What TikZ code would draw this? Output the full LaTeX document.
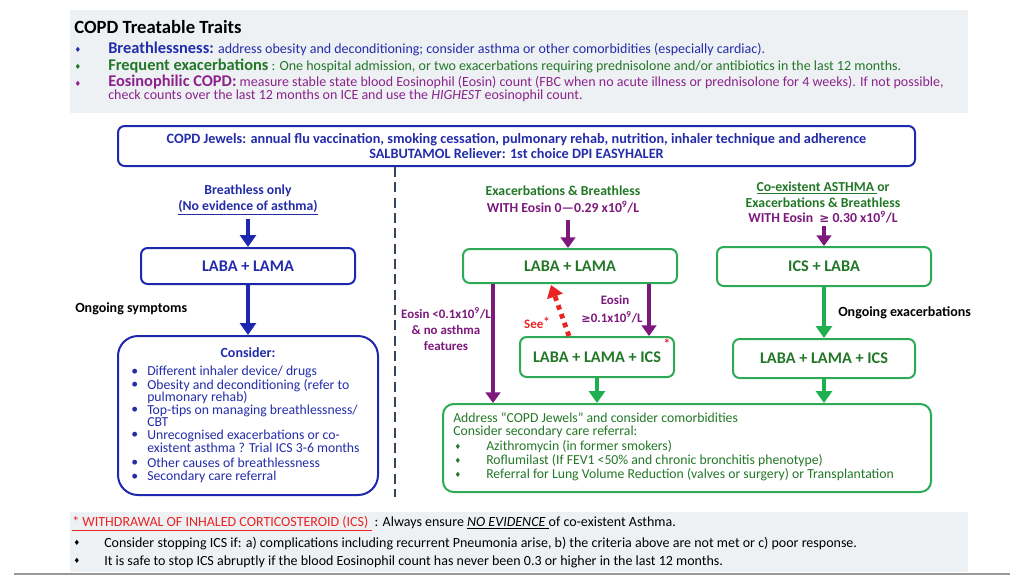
\documentclass[tikz,border=0pt]{standalone}
\usepackage{fontspec}
\setmainfont{Carlito}
\newfontfamily\djs{DejaVu Sans}
\newcommand\hdf{\fontsize{12.3}{14}\selectfont\bfseries}
\usetikzlibrary{arrows.meta,calc}
\definecolor{blueA}{RGB}{30,40,175}
\definecolor{blueT}{RGB}{35,45,170}
\definecolor{greenT}{RGB}{35,120,40}
\definecolor{greenB}{RGB}{45,170,85}
\definecolor{greenA}{RGB}{30,175,80}
\definecolor{purp}{RGB}{125,25,125}
\definecolor{purpT}{RGB}{140,35,140}
\definecolor{redA}{RGB}{235,35,35}
\definecolor{panel}{RGB}{238,241,244}
\definecolor{dashc}{RGB}{55,70,90}
\begin{document}
\begin{tikzpicture}[x=0.75pt,y=-0.75pt,
  bbox/.style={draw=blueA,line width=1.5pt,rounded corners=5pt,fill=white,inner sep=0pt},
  gbox/.style={draw=greenB,line width=1.5pt,rounded corners=5pt,fill=white,inner sep=0pt},
  boxtxt/.style={font=\bfseries\fontsize{12.2}{14}\selectfont},
  lbl/.style={font=\bfseries\fontsize{10.3}{12}\selectfont,inner sep=0pt},
  slbl/.style={font=\bfseries\fontsize{9.7}{11}\selectfont,inner sep=0pt,text=purp},
  toptxt/.style={anchor=base west,inner sep=0pt,font=\fontsize{10.5}{12}\selectfont},
  listtxt/.style={anchor=west,inner sep=0pt,font=\fontsize{10.3}{12}\selectfont},
  diam/.style={inner sep=0pt,font=\djs\fontsize{5.5}{6}\selectfont},
  barrow/.style={line width=3.7pt,draw=blueA,-{Triangle[width=12pt,length=9pt]}},
  parrow/.style={line width=3pt,draw=purp,-{Triangle[width=11pt,length=8pt]}},
  garrow/.style={line width=3.7pt,draw=greenA,-{Triangle[width=12pt,length=9pt]}},
]
\useasboundingbox (0,0) rectangle (1024,576);
\fill[white] (0,0) rectangle (1024,576);
% panels
\fill[panel] (70,10) rectangle (968,113);
\fill[panel] (70,512) rectangle (968,572);
\draw[gray!80,line width=2pt] (14,574) -- (1010,574);

% top panel text
\node[anchor=base west,inner sep=0pt,font=\bfseries\fontsize{14}{16}\selectfont] (title) at (74,33) {COPD Treatable Traits};
\node[diam,text=blueT] (d1) at (78,50) {♦};
\node[diam,text=greenT] (d2) at (78,67) {♦};
\node[diam,text=purpT] (d3) at (78,84) {♦};
\node[toptxt,text=blueT] (t1) at (108,53) {{\hdf Breathlessness:} address obesity and deconditioning; consider asthma or other comorbidities (especially cardiac).};
\node[toptxt,text=greenT] (t2) at (108,70) {{\hdf Frequent exacerbations} : One hospital admission, or two exacerbations requiring prednisolone and/or antibiotics in the last 12 months.};
\node[toptxt,text=purpT] (t3) at (108,86) {{\hdf Eosinophilic COPD:} measure stable state blood Eosinophil (Eosin) count (FBC when no acute illness or prednisolone for 4 weeks). If not possible,};
\node[toptxt,text=purpT] (t4) at (108,99) {check counts over the last 12 months on ICE and use the \textit{HIGHEST} eosinophil count.};

% jewels box
\node[bbox,minimum width=597.75pt,minimum height=30pt,align=center,text=blueT,
  font=\bfseries\fontsize{10.7}{11.25}\selectfont] (jew) at (516.5,146)
  {COPD Jewels: annual flu vaccination, smoking cessation, pulmonary rehab, nutrition, inhaler technique and adherence\\SALBUTAMOL Reliever: 1st choice DPI EASYHALER};

% dashed divider
\coordinate (dv) at (395,497);
\draw[dashc,line width=2.2pt,dash pattern=on 7.5pt off 4pt] (jew.south -| dv) -- (dv);

% ---------- left column
\node[lbl,text=blueT] (lb1) at (248,191) {Breathless only};
\node[lbl,text=blueT] (lb2) at (248,208) {\underline{(No evidence of asthma)}};
\node[bbox,minimum width=160.5pt,minimum height=27pt,boxtxt,text=blueT] (L1) at (248,266) {LABA + LAMA};
\node[bbox,rounded corners=15pt,minimum width=195pt,minimum height=119.25pt] (cons) at (248,415.5) {};
\coordinate (bs) at (248,219);
\draw[barrow] (bs) -- (L1);
\draw[barrow] (L1) -- (cons);
\node[anchor=west,inner sep=0pt,font=\bfseries\fontsize{10.5}{12}\selectfont] (ongs) at (75,309) {Ongoing symptoms};

\node[inner sep=0pt,font=\bfseries\fontsize{10.5}{12}\selectfont,text=blueT] (consh) at (248,353) {Consider:};
\node[listtxt,text=blueT] (b1) at (131,372) {•};
\node[listtxt,text=blueT] (c1) at (147,372) {Different inhaler device/ drugs};
\node[listtxt,text=blueT] (b2) at (131,385.5) {•};
\node[listtxt,text=blueT] (c2) at (147,385.5) {Obesity and deconditioning (refer to};
\node[listtxt,text=blueT] (c2b) at (147,397.5) {pulmonary rehab)};
\node[listtxt,text=blueT] (b3) at (131,410.5) {•};
\node[listtxt,text=blueT] (c3) at (147,410.5) {Top-tips on managing breathlessness/};
\node[listtxt,text=blueT] (c3b) at (147,422.5) {CBT};
\node[listtxt,text=blueT] (b4) at (131,435.5) {•};
\node[listtxt,text=blueT] (c4) at (147,435.5) {Unrecognised exacerbations or co-};
\node[listtxt,text=blueT] (c4b) at (147,447.5) {existent asthma ? Trial ICS 3-6 months};
\node[listtxt,text=blueT] (b5) at (131,463) {•};
\node[listtxt,text=blueT] (c5) at (147,463) {Other causes of breathlessness};
\node[listtxt,text=blueT] (b6) at (131,477) {•};
\node[listtxt,text=blueT] (c6) at (147,477) {Secondary care referral};

% ---------- middle column
\node[lbl,text=greenT] (mb1) at (563,191) {Exacerbations \& Breathless};
\node[lbl,text=purp] (mb2) at (563,207) {WITH Eosin 0—0.29 x10\textsuperscript{9}/L};
\node[gbox,minimum width=160.5pt,minimum height=25.5pt,boxtxt,text=greenT] (M1) at (570,266) {LABA + LAMA};
\node[gbox,minimum width=115.5pt,minimum height=30pt,boxtxt,text=greenT] (M2) at (597,357) {LABA + LAMA + ICS};
\node[inner sep=0pt,text=redA,font=\bfseries\fontsize{10}{11}\selectfont] (ast) at (667,344) {*};
\node[gbox,rounded corners=8pt,minimum width=366pt,minimum height=66pt] (B) at (687,448) {};
\coordinate (ms) at (568,220);
\draw[parrow] (ms) -- (ms |- M1.north);
\draw[parrow] ($(M1.south west)+(31,0)$) -- ($(B.north west)+(51,0)$);
\draw[parrow] ($(M1.south east)+(-29,0)$) -- ($(M2.north east)+(-26,0)$);
\coordinate (redend) at (551,285);
\draw[redA,line width=3.6pt,dash pattern=on 3.5pt off 3.5pt,-{Triangle[width=12pt,length=9pt]}] ($(M2.north west)+(50,0)$) -- (redend);
\draw[garrow] (M2.south) -- (M2.south |- B.north);
\node[slbl] (e1) at (446,313) {Eosin <0.1x10\textsuperscript{9}/L};
\node[slbl] (e2) at (446,330) {\& no asthma};
\node[slbl] (e3) at (446,346) {features};
\node[slbl] (e4) at (615,300) {Eosin};
\node[slbl] (e5) at (612,317) {{\djs\fontsize{8.5}{10}\selectfont ≥}0.1x10\textsuperscript{9}/L};
\node[inner sep=0pt,text=redA,font=\bfseries\fontsize{9.7}{11}\selectfont] (see) at (537,323) {See\raisebox{2pt}{*}};

% ---------- right column
\node[lbl,text=greenT] (rb1) at (823,188) {\underline{Co-existent ASTHMA }or};
\node[lbl,text=greenT] (rb2) at (823,202.5) {Exacerbations \& Breathless};
\node[lbl,text=purp] (rb3) at (823,217) {WITH Eosin \ {\djs\fontsize{9}{10}\selectfont ≥} 0.30 x10\textsuperscript{9}/L};
\node[gbox,minimum width=160.5pt,minimum height=29.25pt,boxtxt,text=greenT] (R1) at (824,266.5) {ICS + LABA};
\node[gbox,minimum width=136.5pt,minimum height=29.25pt,boxtxt,text=greenT] (R2) at (824,358.5) {LABA + LAMA + ICS};
\coordinate (rs) at (824,226);
\draw[parrow] (rs) -- (R1);
\draw[garrow] (R1) -- (R2);
\draw[garrow] (R2.south) -- (R2.south |- B.north);
\node[anchor=west,inner sep=0pt,font=\bfseries\fontsize{10.5}{12}\selectfont] (onge) at (838,313) {Ongoing exacerbations};

% bottom box text
\node[listtxt,text=greenT] (g1) at (453,418) {Address “COPD Jewels” and consider comorbidities};
\node[listtxt,text=greenT] (g2) at (453,432) {Consider secondary care referral:};
\node[diam,text=greenT] (gd1) at (458,447) {♦};
\node[listtxt,text=greenT] (g3) at (486,447) {Azithromycin (in former smokers)};
\node[diam,text=greenT] (gd2) at (458,461) {♦};
\node[listtxt,text=greenT] (g4) at (486,461) {Roflumilast (If FEV1 <50\% and chronic bronchitis phenotype)};
\node[diam,text=greenT] (gd3) at (458,475) {♦};
\node[listtxt,text=greenT] (g5) at (486,475) {Referral for Lung Volume Reduction (valves or surgery) or Transplantation};

% bottom panel
\node[toptxt] (w1) at (72,526) {\textcolor{redA}{\underline{* WITHDRAWAL OF INHALED CORTICOSTEROID (ICS) }} : Always ensure \underline{\textit{NO EVIDENCE }}of co-existent Asthma.};
\node[diam] (wd1) at (77,543) {♦};
\node[toptxt] (w2) at (104,547) {Consider stopping ICS if: a) complications including recurrent Pneumonia arise, b) the criteria above are not met or c) poor response.};
\node[diam] (wd2) at (77,561) {♦};
\node[toptxt] (w3) at (104,565) {It is safe to stop ICS abruptly if the blood Eosinophil count has never been 0.3 or higher in the last 12 months.};
\end{tikzpicture}
\end{document}
